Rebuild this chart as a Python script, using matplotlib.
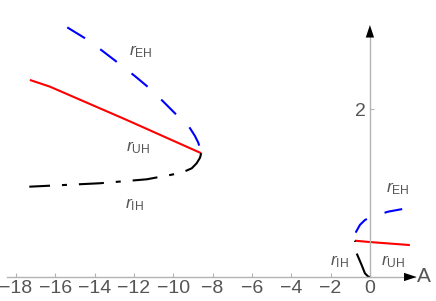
import matplotlib
matplotlib.use("Agg")
import matplotlib.pyplot as plt

plt.rcParams['font.family'] = ['Liberation Sans', 'DejaVu Sans']
plt.rcParams['mathtext.fontset'] = 'custom'
plt.rcParams['mathtext.rm'] = 'Liberation Sans'
plt.rcParams['mathtext.it'] = 'Liberation Sans:italic'
plt.rcParams['lines.scale_dashes'] = False

# ---- data (A, r) ----
eh_left_A = [-15.39, -14.40, -13.59, -12.71, -11.95, -11.10, -10.42, -9.62, -9.20, -8.90, -8.73, -8.62, -8.58]
eh_left_r = [2.972, 2.830, 2.690, 2.532, 2.392, 2.226, 2.068, 1.880, 1.790, 1.680, 1.600, 1.520, 1.474]

uh_left_A = [-17.29, -16.27, -12.37, -8.58]
uh_left_r = [2.346, 2.266, 1.870, 1.474]

ih_left_A = [-8.58, -8.64, -8.81, -9.06, -9.57, -10.17, -11.35, -13.73, -17.32]
ih_left_r = [1.474, 1.420, 1.354, 1.294, 1.242, 1.214, 1.163, 1.116, 1.075]

eh_right_A = [-0.727, -0.508, -0.254, 0.0, 0.93, 2.03]
eh_right_r = [0.528, 0.620, 0.678, 0.710, 0.778, 0.825]

uh_right_A = [-0.763, 0.0, 2.03]
uh_right_r = [0.432, 0.416, 0.380]

ih_right_A = [0.0, -0.086, -0.254, -0.42, -0.676, -0.763]
ih_right_r = [0.0, 0.004, 0.044, 0.142, 0.282, 0.432]

x_ticks = [-18, -16, -14, -12, -10, -8, -6, -4, -2, 0]
y_ticks = [2]

labels = [
    (r'$r_{\mathrm{EH}}$', -11.64, 2.678),
    (r'$r_{\mathrm{UH}}$', -11.79, 1.536),
    (r'$r_{\mathrm{IH}}$', -11.95, 0.858),
    (r'$r_{\mathrm{EH}}$', 1.42, 1.048),
    (r'$r_{\mathrm{IH}}$', -1.525, 0.178),
    (r'$r_{\mathrm{UH}}$', 1.17, 0.178),
]

fig = plt.figure(figsize=(4.36, 3.01), dpi=100)
ax = fig.add_axes([0, 0, 1, 1])
ax.set_xlim(-18.81, 3.36)
ax.set_ylim(-0.286, 3.298)

axis_col = '#b3b3b3'
text_col = '#555555'

for s in ['top', 'right']:
    ax.spines[s].set_visible(False)
ax.spines['left'].set_position(('data', 0))
ax.spines['bottom'].set_position(('data', 0))
ax.spines['left'].set_bounds(0, 2.94)
ax.spines['bottom'].set_bounds(-18.45, 2.3)
for s in ['left', 'bottom']:
    ax.spines[s].set_color(axis_col)
    ax.spines[s].set_linewidth(1.0)

ax.set_xticks(x_ticks)
ax.set_xticklabels(['\u2212%d' % abs(t) if t < 0 else '%d' % t for t in x_ticks])
ax.set_yticks(y_ticks)
ax.set_yticklabels([str(t) for t in y_ticks])
ax.tick_params(axis='both', direction='in', length=3, width=0.8, color=axis_col,
               labelcolor=text_col, labelsize=14)
ax.tick_params(axis='x', pad=2)
ax.tick_params(axis='y', pad=3)

# arrow heads
ax.annotate('', xy=(2.37, 0), xytext=(1.9, 0),
            arrowprops=dict(arrowstyle='-|>,head_length=0.9,head_width=0.3',
                            color='black', lw=0, shrinkA=0, shrinkB=0),
            annotation_clip=False)
ax.annotate('', xy=(0, 3.0), xytext=(0, 2.9),
            arrowprops=dict(arrowstyle='-|>,head_length=0.9,head_width=0.3',
                            color='black', lw=0, shrinkA=0, shrinkB=0),
            annotation_clip=False)

lw = 1.5
blue_dash = (0, (15, 13.5))
black_dash = (0, (18, 8.6, 3.6, 8.6))

ax.plot(uh_left_A, uh_left_r, color='#ff0000', lw=lw, solid_capstyle='butt')
ax.plot(uh_right_A, uh_right_r, color='#ff0000', lw=lw, solid_capstyle='butt')
ax.plot(eh_left_A, eh_left_r, color='#0000ff', lw=lw, linestyle=blue_dash)
ax.plot(eh_right_A, eh_right_r, color='#0000ff', lw=lw, linestyle=(0, (13, 13.5)))
ax.plot(ih_left_A, ih_left_r, color='black', lw=lw, linestyle=black_dash)
ax.plot(ih_right_A, ih_right_r, color='black', lw=lw, linestyle=(0, (20, 8.6, 3.6, 8.6)))

for txt, xa, ya in labels:
    ax.text(xa, ya, txt, color=text_col, fontsize=12.5, ha='center', va='center')

ax.text(2.75, 0, 'A', color=text_col, fontsize=15, ha='center', va='center')

fig.savefig('out.png', dpi=100)
